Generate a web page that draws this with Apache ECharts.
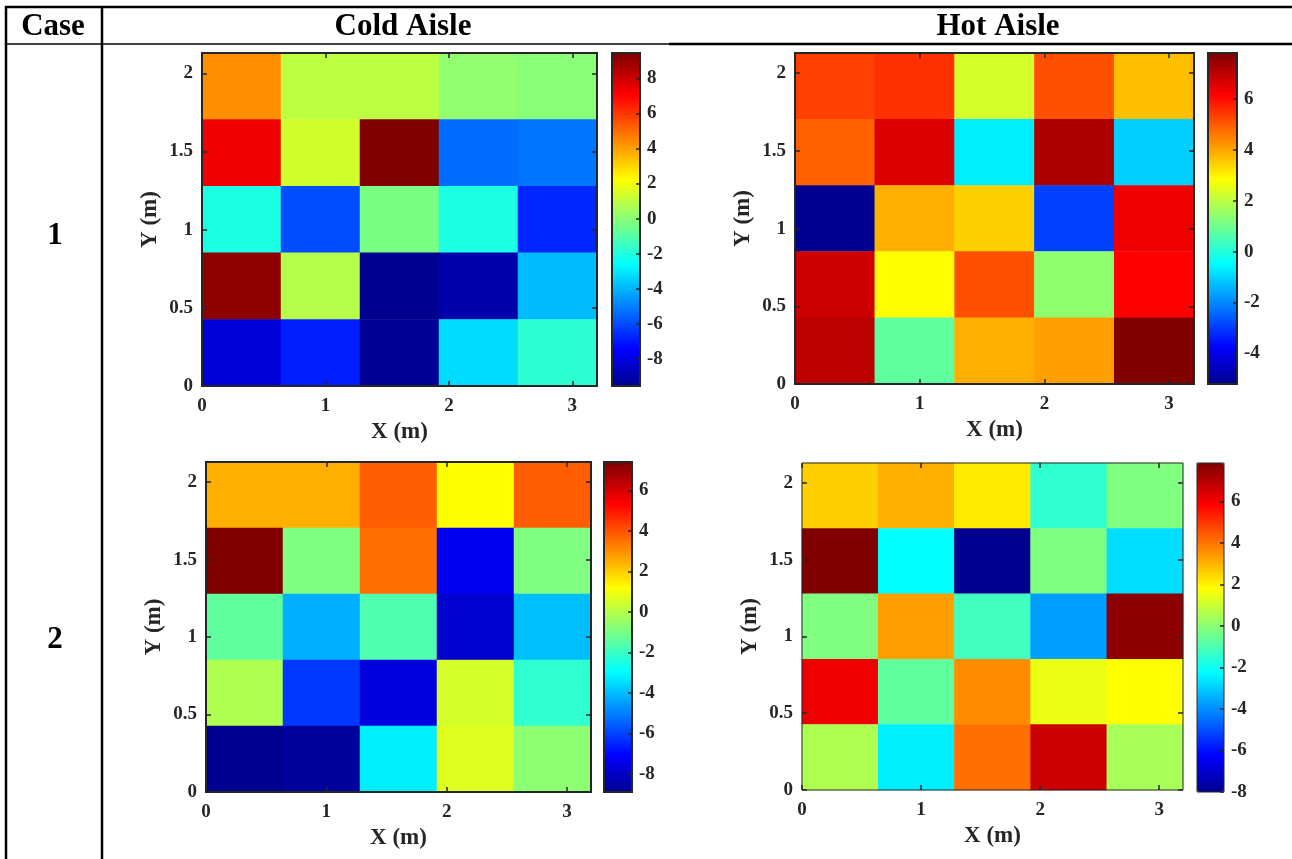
<!DOCTYPE html>
<html>
<head>
<meta charset="utf-8">
<script src="https://cdn.jsdelivr.net/npm/echarts@6/dist/echarts.min.js"></script>
<style>
  html, body { margin: 0; padding: 0; background: #fff; }
  #main { width: 1292px; height: 859px; }
</style>
</head>
<body>
<div id="main"></div>
<script>
// cell values, rows listed from top (y ~ 2.1 m) to bottom (y ~ 0 m), columns from x = 0 to x = 3.2 m
var coldCase1 = [
  [4.33, 0.96, 0.96, 0.14, -0.04],
  [7.32, 1.35, 9.45, -5.38, -5.23],
  [-2.06, -5.98, -0.31, -2.06, -6.73],
  [9.16, 0.81, -9.55, -9.0, -3.87],
  [-8.21, -6.89, -9.45, -3.27, -1.76]
];
var hotCase1 = [
  [5.32, 5.53, 2.29, 5.12, 3.67],
  [4.91, 6.6, -0.66, 7.24, -1.07],
  [-5.2, 3.88, 3.46, -2.93, 6.37],
  [6.81, 2.85, 5.12, 1.4, 6.15],
  [7.03, 0.78, 3.88, 4.08, 7.8]
];
var coldCase2 = [
  [2.48, 2.48, 3.83, 1.19, 3.83],
  [7.4, -0.88, 3.52, -7.37, -0.88],
  [-1.4, -4.24, -1.66, -7.87, -3.98],
  [-0.1, -6.18, -7.61, 0.49, -2.17],
  [-8.9, -8.69, -3.21, 0.67, -0.67]
];
var hotCase2 = [
  [2.57, 3.07, 2.14, -1.46, -0.2],
  [7.86, -2.21, -8.0, -0.2, -2.71],
  [-0.2, 3.33, -1.2, -3.72, 7.66],
  [6.12, -0.7, 3.63, 1.51, 1.82],
  [0.56, -2.46, 4.08, 6.65, 0.43]
];
// colour limits of each panel
var coldCase1Range = [-9.55, 9.45];
var hotCase1Range = [-5.2, 7.8];
var coldCase2Range = [-8.9, 7.4];
var hotCase2Range = [-8.0, 7.86];

var cellCols = ['c1', 'c2', 'c3', 'c4', 'c5'];
var cellRows = ['r1', 'r2', 'r3', 'r4', 'r5'];
var xTicks = [0, 1, 2, 3];
var yTicks = [0, 0.5, 1, 1.5, 2];
var xMax = 3.2, yMax = 2.13;
var cbTicks = [-8, -6, -4, -2, 0, 2, 4, 6, 8];

// matlab jet(64)
function jetColors() {
  function u(k) {
    if (k < 1 || k > 47) return 0;
    if (k <= 16) return k / 16;
    if (k <= 31) return 1;
    return (48 - k) / 16;
  }
  var out = [];
  for (var i = 1; i <= 64; i++) {
    var r = Math.round(u(i - 24) * 255), g = Math.round(u(i - 8) * 255), b = Math.round(u(i + 8) * 255);
    out.push('rgb(' + r + ',' + g + ',' + b + ')');
  }
  return out;
}
var jet = jetColors();

var FONT = 'Liberation Serif';
var INK = '#262626';

// layout of each panel: plot rect and colorbar rect
var panels = [
  { data: coldCase1, range: coldCase1Range, plot: [202, 53, 395, 333], bar: [612, 53, 28, 333], lw: 2 },
  { data: hotCase1, range: hotCase1Range, plot: [795, 53, 399, 331], bar: [1208, 53, 29, 331], lw: 2 },
  { data: coldCase2, range: coldCase2Range, plot: [206, 462, 385, 330], bar: [604, 462, 28, 330], lw: 2 },
  { data: hotCase2, range: hotCase2Range, plot: [802, 463, 381, 327], bar: [1197, 463, 27, 329], lw: 1 }
];

var labelStyle = { color: INK, fontSize: 19, fontWeight: 'bold', fontFamily: FONT };
var nameStyle = { color: INK, fontSize: 23, fontWeight: 'bold', fontFamily: FONT };
var noLine = { show: false, onZero: false };

var grid = [], xAxis = [], yAxis = [], series = [], visualMap = [];

panels.forEach(function (p, n) {
  var gPlot = grid.length;
  grid.push({ left: p.plot[0], top: p.plot[1], width: p.plot[2], height: p.plot[3],
    show: true, backgroundColor: 'transparent', borderColor: INK, borderWidth: p.lw, z: 10, outerBoundsMode: 'none' });
  var gBar = grid.length;
  grid.push({ left: p.bar[0], top: p.bar[1], width: p.bar[2], height: p.bar[3],
    show: true, backgroundColor: 'transparent', borderColor: INK, borderWidth: p.lw, z: 10, outerBoundsMode: 'none' });

  var tick = { inside: true, length: 5, lineStyle: { color: INK, width: 1.5 } };

  // hidden category axes carry the cells
  var xCat = xAxis.length;
  xAxis.push({ type: 'category', gridIndex: gPlot, data: cellCols, show: false, axisLine: noLine });
  xAxis.push({ type: 'value', gridIndex: gPlot, position: 'bottom', min: 0, max: xMax, z: 10,
    axisLine: noLine, splitLine: { show: false },
    axisTick: Object.assign({ customValues: xTicks }, tick),
    axisLabel: Object.assign({ customValues: xTicks, margin: 11 }, labelStyle),
    name: 'X (m)', nameLocation: 'middle', nameGap: 35, nameTextStyle: nameStyle });
  xAxis.push({ type: 'value', gridIndex: gPlot, position: 'top', min: 0, max: xMax, z: 10,
    axisLine: noLine, splitLine: { show: false }, axisLabel: { show: false },
    axisTick: Object.assign({ customValues: xTicks }, tick) });
  xAxis.push({ type: 'value', gridIndex: gBar, min: 0, max: 1, show: false, axisLine: noLine });

  var yCat = yAxis.length;
  yAxis.push({ type: 'category', gridIndex: gPlot, data: cellRows, show: false, axisLine: noLine });
  yAxis.push({ type: 'value', gridIndex: gPlot, position: 'left', min: 0, max: yMax, z: 10,
    axisLine: noLine, splitLine: { show: false },
    axisTick: Object.assign({ customValues: yTicks }, tick),
    axisLabel: Object.assign({ customValues: yTicks, margin: 9 }, labelStyle),
    name: 'Y (m)', nameLocation: 'middle', nameGap: 40, nameRotate: 90, nameTextStyle: nameStyle });
  yAxis.push({ type: 'value', gridIndex: gPlot, position: 'right', min: 0, max: yMax, z: 10,
    axisLine: noLine, splitLine: { show: false }, axisLabel: { show: false },
    axisTick: Object.assign({ customValues: yTicks }, tick) });
  // colorbar scale
  yAxis.push({ type: 'value', gridIndex: gBar, position: 'right', min: p.range[0], max: p.range[1], z: 10,
    axisLine: noLine, splitLine: { show: false },
    axisTick: { inside: true, length: 4, customValues: cbTicks, lineStyle: { color: INK, width: 1.5 } },
    axisLabel: Object.assign({ customValues: cbTicks, margin: 7 }, labelStyle) });

  var cells = [];
  p.data.forEach(function (row, r) {
    row.forEach(function (v, c) {
      cells.push([c, p.data.length - 1 - r, v]);
    });
  });
  series.push({ type: 'heatmap', xAxisIndex: xCat, yAxisIndex: yCat, data: cells,
    itemStyle: { borderWidth: 0 }, emphasis: { disabled: true }, progressive: 0, animation: false });

  visualMap.push({ type: 'continuous', seriesIndex: n, dimension: 2, min: p.range[0], max: p.range[1],
    inRange: { color: jet }, calculable: false, hoverLink: false, orient: 'vertical', padding: 0,
    left: p.bar[0], top: p.bar[1], itemWidth: p.bar[2], itemHeight: p.bar[3], text: null });
});

function hLine(x1, x2, y, w) {
  return { type: 'line', silent: true, shape: { x1: x1, y1: y, x2: x2, y2: y }, style: { stroke: '#000', lineWidth: w } };
}
function vLine(x, y1, y2, w) {
  return { type: 'line', silent: true, shape: { x1: x, y1: y1, x2: x, y2: y2 }, style: { stroke: '#000', lineWidth: w } };
}
function label(text, x, y, size) {
  return { type: 'text', silent: true, x: x, y: y,
    style: { text: text, fill: '#000', font: 'bold ' + size + 'px "' + FONT + '"', align: 'center', verticalAlign: 'middle' } };
}

var option = {
  animation: false,
  backgroundColor: '#fff',
  grid: grid,
  xAxis: xAxis,
  yAxis: yAxis,
  visualMap: visualMap,
  series: series,
  graphic: [
    hLine(5, 1292, 7, 2.5),
    vLine(6, 6, 859, 2.5),
    vLine(102, 6, 859, 2.5),
    hLine(6, 669, 44, 1.5),
    hLine(669, 1292, 44, 2.5),
    label('Case', 53, 27, 31),
    label('Cold Aisle', 403, 27, 31),
    label('Hot Aisle', 998, 27, 31),
    label('1', 55, 236, 31),
    label('2', 55, 640, 31)
  ]
};

var chart = echarts.init(document.getElementById('main'), null, { renderer: 'canvas' });
chart.setOption(option);
</script>
</body>
</html>
